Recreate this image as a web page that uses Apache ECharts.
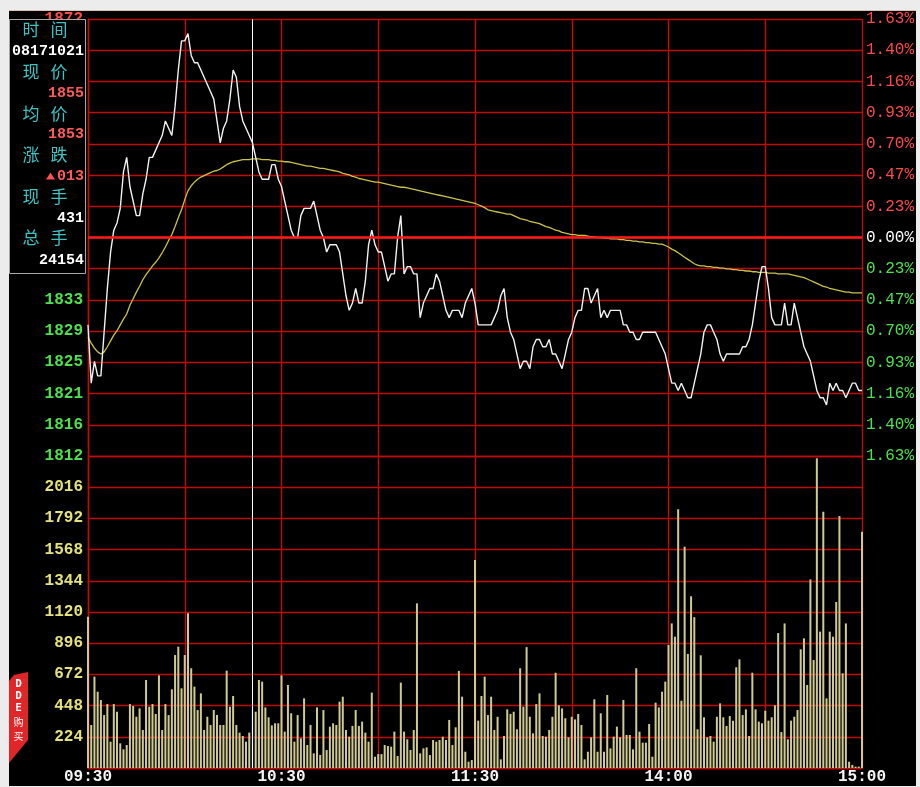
<!DOCTYPE html>
<html><head><meta charset="utf-8">
<script src="https://cdn.jsdelivr.net/npm/echarts@6/dist/echarts.min.js"></script>
<style>
html,body{margin:0;padding:0;width:920px;height:787px;overflow:hidden;background:#ececec;}
#bg{position:absolute;left:9px;top:10px;width:907px;height:775px;background:#000;border-top:1px solid #e0c0b0;}
#chart{position:absolute;left:0;top:0;width:920px;height:787px;}
</style></head><body>
<div id="bg"></div><div id="chart"></div>
<script>
// ---- data ----
const BASE = 1842;          // 0.00% reference price
const HALF = 30;            // price span of 1.63%
const priceLabels = ['1812','1816','1821','1825','1829','1833','1838','1842','1846','1851','1855','1859','1863','1868','1872'];
const pctLabels = ['1.63%','1.40%','1.16%','0.93%','0.70%','0.47%','0.23%','0.00%','0.23%','0.47%','0.70%','0.93%','1.16%','1.40%','1.63%'];
const volLabels = ['','224','448','672','896','1120','1344','1568','1792','2016',''];
const timeTicks = ['09:30','10:30','11:30','14:00','15:00'];
const cursorTime = '10:21';
const VOL_MAX = 2240;

const price = [
1830,1822,1825,1823,1823,1829,1835,1840,1843,1844,
1846,1851,1853,1849,1847,1845,1845,1848,1850,1853,
1853,1854,1855,1856,1858,1857,1856,1860,1865,1869,
1869,1870,1867,1866,1866,1865,1864,1863,1862,1861,
1858,1855,1857,1858,1861,1865,1864,1860,1858,1857,
1856,1855,1853,1851,1850,1850,1850,1852,1852,1850,
1849,1847,1845,1843,1842,1842,1845,1846,1846,1846,
1847,1845,1843,1842,1840,1841,1841,1841,1840,1837,
1834,1832,1833,1835,1833,1833,1836,1841,1843,1841,
1840,1840,1838,1836,1837,1837,1842,1845,1837,1838,
1838,1837,1837,1831,1833,1834,1835,1835,1837,1836,
1834,1832,1831,1832,1832,1832,1831,1833,1834,1835,
1833,1830,1830,1830,1830,1830,1831,1832,1834,1835,
1831,1829,1828,1826,1824,1825,1825,1824,1827,1828,
1828,1827,1827,1828,1826,1826,1825,1824,1826,1828,
1829,1831,1832,1832,1835,1835,1833,1834,1835,1831,
1832,1831,1832,1832,1832,1832,1830,1830,1829,1829,
1828,1828,1829,1829,1829,1829,1829,1828,1827,1826,
1824,1822,1822,1821,1822,1821,1820,1820,1822,1824,
1826,1829,1830,1830,1829,1828,1826,1825,1826,1826,
1826,1826,1826,1827,1827,1828,1830,1833,1836,1838,
1838,1835,1831,1830,1830,1830,1833,1830,1830,1833,
1831,1829,1827,1826,1825,1823,1821,1820,1820,1819,
1822,1821,1822,1821,1821,1820,1821,1822,1822,1821,1821];

const avgPrice = [
1828.3,1827.5,1826.8,1826.3,1826.0,1826.3,1827.0,1827.8,1828.6,1829.2,
1830.0,1830.8,1831.5,1832.7,1833.6,1834.5,1835.3,1836.2,1836.9,1837.5,
1838.1,1838.6,1839.2,1839.9,1840.7,1841.6,1842.4,1843.5,1844.7,1845.8,
1847.2,1848.4,1849.1,1849.6,1850.0,1850.3,1850.5,1850.7,1850.9,1851.1,
1851.2,1851.4,1851.7,1852.0,1852.2,1852.4,1852.5,1852.6,1852.7,1852.7,
1852.7,1852.8,1852.8,1852.8,1852.7,1852.7,1852.7,1852.6,1852.6,1852.5,
1852.5,1852.4,1852.4,1852.3,1852.2,1852.1,1852.0,1851.9,1851.8,1851.8,
1851.7,1851.6,1851.5,1851.5,1851.4,1851.3,1851.2,1851.1,1851.0,1850.8,
1850.7,1850.6,1850.4,1850.3,1850.1,1850.0,1849.9,1849.8,1849.7,1849.6,
1849.6,1849.5,1849.4,1849.3,1849.2,1849.1,1849.0,1848.9,1848.9,1848.8,
1848.7,1848.6,1848.5,1848.4,1848.3,1848.2,1848.1,1848.0,1847.9,1847.8,
1847.7,1847.6,1847.5,1847.4,1847.3,1847.2,1847.1,1847.0,1846.9,1846.8,
1846.7,1846.5,1846.3,1846.1,1845.8,1845.7,1845.6,1845.5,1845.4,1845.3,
1845.2,1845.2,1845.0,1844.8,1844.6,1844.5,1844.4,1844.2,1844.1,1844.0,
1843.9,1843.7,1843.5,1843.4,1843.2,1843.0,1842.9,1842.7,1842.6,1842.5,
1842.4,1842.4,1842.3,1842.3,1842.3,1842.2,1842.1,1842.1,1842.0,1842.0,
1841.9,1841.9,1841.8,1841.8,1841.8,1841.7,1841.7,1841.6,1841.6,1841.5,
1841.5,1841.4,1841.4,1841.3,1841.3,1841.2,1841.2,1841.1,1841.1,1840.9,
1840.7,1840.4,1840.2,1839.9,1839.6,1839.3,1839.0,1838.7,1838.4,1838.2,
1838.1,1838.1,1838.0,1838.0,1837.9,1837.9,1837.8,1837.8,1837.7,1837.7,
1837.6,1837.6,1837.5,1837.5,1837.4,1837.4,1837.3,1837.3,1837.2,1837.2,
1837.2,1837.1,1837.1,1837.1,1837.0,1837.0,1837.0,1837.0,1836.9,1836.8,
1836.7,1836.6,1836.5,1836.3,1836.1,1835.9,1835.7,1835.5,1835.3,1835.2,
1835.0,1834.9,1834.8,1834.7,1834.6,1834.5,1834.5,1834.4,1834.4,1834.4,1834.4];

const volume = [
1086,309,656,548,488,380,459,189,459,404,
177,134,165,459,445,368,428,273,632,440,
459,388,665,273,459,380,565,811,871,572,
811,1111,716,584,416,536,273,368,309,416,
380,309,309,699,440,517,309,254,230,189,
254,428,404,632,620,435,364,306,321,321,
665,261,596,393,189,380,213,500,165,309,
105,435,93,416,129,297,321,309,476,512,
273,225,302,416,302,333,254,189,541,81,
100,100,165,158,153,261,86,613,261,206,
129,273,1182,105,141,148,93,201,189,201,
225,201,345,165,292,697,512,117,45,57,
1493,340,517,656,380,512,273,368,62,230,
421,388,404,278,716,440,868,368,249,459,
536,230,225,273,368,684,450,428,357,220,
368,349,388,309,62,117,220,493,117,393,
117,524,141,225,297,220,488,237,237,134,
716,261,182,182,316,81,469,435,548,620,
883,1038,943,1857,483,1589,819,1233,1083,278,
809,364,220,230,189,368,464,364,302,373,
340,723,780,380,421,230,684,421,333,321,
411,340,364,450,969,258,1038,206,340,368,
416,852,931,596,1354,775,2223,979,1840,500,
979,943,1192,1809,680,1038,45,22,10,10,
1697];

// info panel texts
const infoRows = [
  {label:['时','间'], value:'08171021', color:'#ffffff'},
  {label:['现','价'], value:'1855', color:'#ff5a5a'},
  {label:['均','价'], value:'1853', color:'#ff5a5a'},
  {label:['涨','跌'], value:'013', color:'#ff5a5a', arrow:true},
  {label:['现','手'], value:'431', color:'#ffffff'},
  {label:['总','手'], value:'24154', color:'#ffffff'}
];

// ---- build ----
const times = [];
for (let i = 0; i <= 240; i++) {
  const m = i <= 120 ? 9 * 60 + 30 + i : 13 * 60 + (i - 120);
  times.push(String(Math.floor(m / 60)).padStart(2, '0') + ':' + String(m % 60).padStart(2, '0'));
}
const cursorIndex = times.indexOf(cursorTime);
const toStep = p => (p - BASE) * 7 / HALF;
const GRID = '#c00c0c';
const GW = 1.4;
const NUMFONT = 'Liberation Mono';

const graphics = [];
graphics.push({type:'rect', z:100, shape:{x:9.5, y:19.5, width:76, height:254}, style:{fill:'#000', stroke:'#a8a8a8', lineWidth:1}});
infoRows.forEach((r, k) => {
  const ly = 30 + k * 41.6, vy = 51 + k * 41.8;
  graphics.push({type:'text', z:101, x:31, y:ly, style:{text:r.label[0], fill:'#3ec2c2', font:'17px "Noto Sans CJK SC"', textAlign:'center', textVerticalAlign:'middle'}});
  graphics.push({type:'text', z:101, x:59, y:ly, style:{text:r.label[1], fill:'#3ec2c2', font:'17px "Noto Sans CJK SC"', textAlign:'center', textVerticalAlign:'middle'}});
  if (k === 0) {
    graphics.push({type:'text', z:101, x:48, y:vy, style:{text:r.value, fill:r.color, font:'bold 15px "' + NUMFONT + '"', textAlign:'center', textVerticalAlign:'middle'}});
  } else {
    graphics.push({type:'text', z:101, x:84, y:vy, style:{text:r.value, fill:r.color, font:'bold 15px "' + NUMFONT + '"', textAlign:'right', textVerticalAlign:'middle'}});
  }
  if (r.arrow) {
    graphics.push({type:'polygon', z:101, shape:{points:[[50.5,vy-4],[46,vy+3],[55,vy+3]]}, style:{fill:'#ff5050'}});
  }
});
// DDE tab
graphics.push({type:'polygon', z:100, shape:{points:[[9,681],[14,675],[28,672],[28,740],[9,763]]}, style:{fill:'#e02626'}});
['D','D','E'].forEach((c, k) => {
  graphics.push({type:'text', z:101, x:18.5, y:[684,696,708][k], style:{text:c, fill:'#fff', font:'bold 11px "DejaVu Sans Mono"', textAlign:'center', textVerticalAlign:'middle'}});
});
['购','买'].forEach((c, k) => {
  graphics.push({type:'text', z:101, x:18.5, y:[722,736][k], style:{text:c, fill:'#fff', font:'10px "Noto Sans CJK SC"', textAlign:'center', textVerticalAlign:'middle'}});
});

const chart = echarts.init(document.getElementById('chart'), null, {renderer:'canvas'});
chart.setOption({
  animation: false,
  backgroundColor: 'transparent',
  grid: [
    {left: 88, right: 58, top: 19, height: 437},
    {left: 88, right: 58, top: 456, height: 312}
  ],
  xAxis: [
    {type:'category', gridIndex:0, data:times, boundaryGap:false,
     axisLine:{show:false}, axisTick:{show:false}, axisLabel:{show:false},
     splitLine:{show:true, interval:(i) => i % 30 === 0, lineStyle:{color:GRID, width:GW}}},
    {type:'category', gridIndex:1, data:times, boundaryGap:false,
     axisLine:{show:true, lineStyle:{color:GRID, width:GW}}, axisTick:{show:false},
     axisLabel:{interval:(i, v) => timeTicks.indexOf(v) >= 0, color:'#f4f4f4', fontFamily:NUMFONT, fontWeight:'bold', fontSize:16, margin:1},
     splitLine:{show:true, interval:(i) => i % 30 === 0, lineStyle:{color:GRID, width:GW}}}
  ],
  yAxis: [
    {type:'value', gridIndex:0, min:-7, max:7, interval:1, position:'left',
     axisLine:{show:true, lineStyle:{color:GRID, width:GW}}, axisTick:{show:false},
     axisLabel:{formatter:(v) => priceLabels[Math.round(v) + 7], fontFamily:NUMFONT, fontWeight:'bold', fontSize:16, margin:5,
       color:(v) => (v > 0 ? '#ff4a4a' : (v < 0 ? '#4fe04f' : '#ffffff'))},
     splitLine:{show:true, lineStyle:{color:GRID, width:GW}}},
    {type:'value', gridIndex:0, min:-7, max:7, interval:1, position:'right',
     axisLine:{show:false}, axisTick:{show:false},
     axisLabel:{formatter:(v) => pctLabels[Math.round(v) + 7], fontFamily:NUMFONT, fontSize:16, margin:4,
       color:(v) => (v > 0 ? '#ff4a4a' : (v < 0 ? '#4fe04f' : '#ffffff'))},
     splitLine:{show:false}},
    {type:'value', gridIndex:1, min:0, max:VOL_MAX, interval:224, position:'left',
     axisLine:{show:true, lineStyle:{color:GRID, width:GW}}, axisTick:{show:false},
     axisLabel:{formatter:(v) => volLabels[Math.round(v / 224)], color:'#e6e27a', fontFamily:NUMFONT, fontWeight:'bold', fontSize:16, margin:5},
     splitLine:{show:true, lineStyle:{color:GRID, width:GW}}}
  ],
  series: [
    {type:'line', name:'avg', xAxisIndex:0, yAxisIndex:0, data:avgPrice.map(toStep), symbol:'none', z:3,
     lineStyle:{color:'#cbc24a', width:1.3}},
    {type:'line', name:'price', xAxisIndex:0, yAxisIndex:0, data:price.map(toStep), symbol:'none', z:4,
     lineStyle:{color:'#f2f2f2', width:1.4},
     markLine:{silent:true, symbol:'none', label:{show:false}, animation:false,
       data:[
         {yAxis:0, lineStyle:{color:'#ff1a1a', width:2.5, type:'solid'}},
         {xAxis:cursorTime, lineStyle:{color:'#ffffff', width:1, type:'solid'}}
       ]}},
    {type:'bar', name:'vol', xAxisIndex:1, yAxisIndex:2, barWidth:2, z:3,
     data:volume.map((v, i) => i === cursorIndex ? {value:v, itemStyle:{color:'#1c2270'}} : v),
     itemStyle:{color:'#cfca92'},
     markLine:{silent:true, symbol:'none', label:{show:false}, animation:false, z:10,
       lineStyle:{color:'#ffffff', width:1, type:'solid', opacity:1},
       data:[[{coord:[cursorIndex, 0]}, {coord:[cursorIndex, VOL_MAX]}]]}},
    {type:'custom', name:'cursor', xAxisIndex:1, yAxisIndex:2, z:10, silent:true, clip:false,
     data:[[cursorIndex, 0, VOL_MAX]], encode:{x:0, y:[1, 2]},
     renderItem:(params, api) => {
       const a = api.coord([api.value(0), api.value(1)]);
       const b = api.coord([api.value(0), api.value(2)]);
       return {type:'line', z2:10, shape:{x1:a[0], y1:a[1], x2:b[0], y2:b[1]}, style:{stroke:'#ffffff', lineWidth:1, opacity:1}};
     }}
  ],
  graphic: graphics
});
</script></body></html>
